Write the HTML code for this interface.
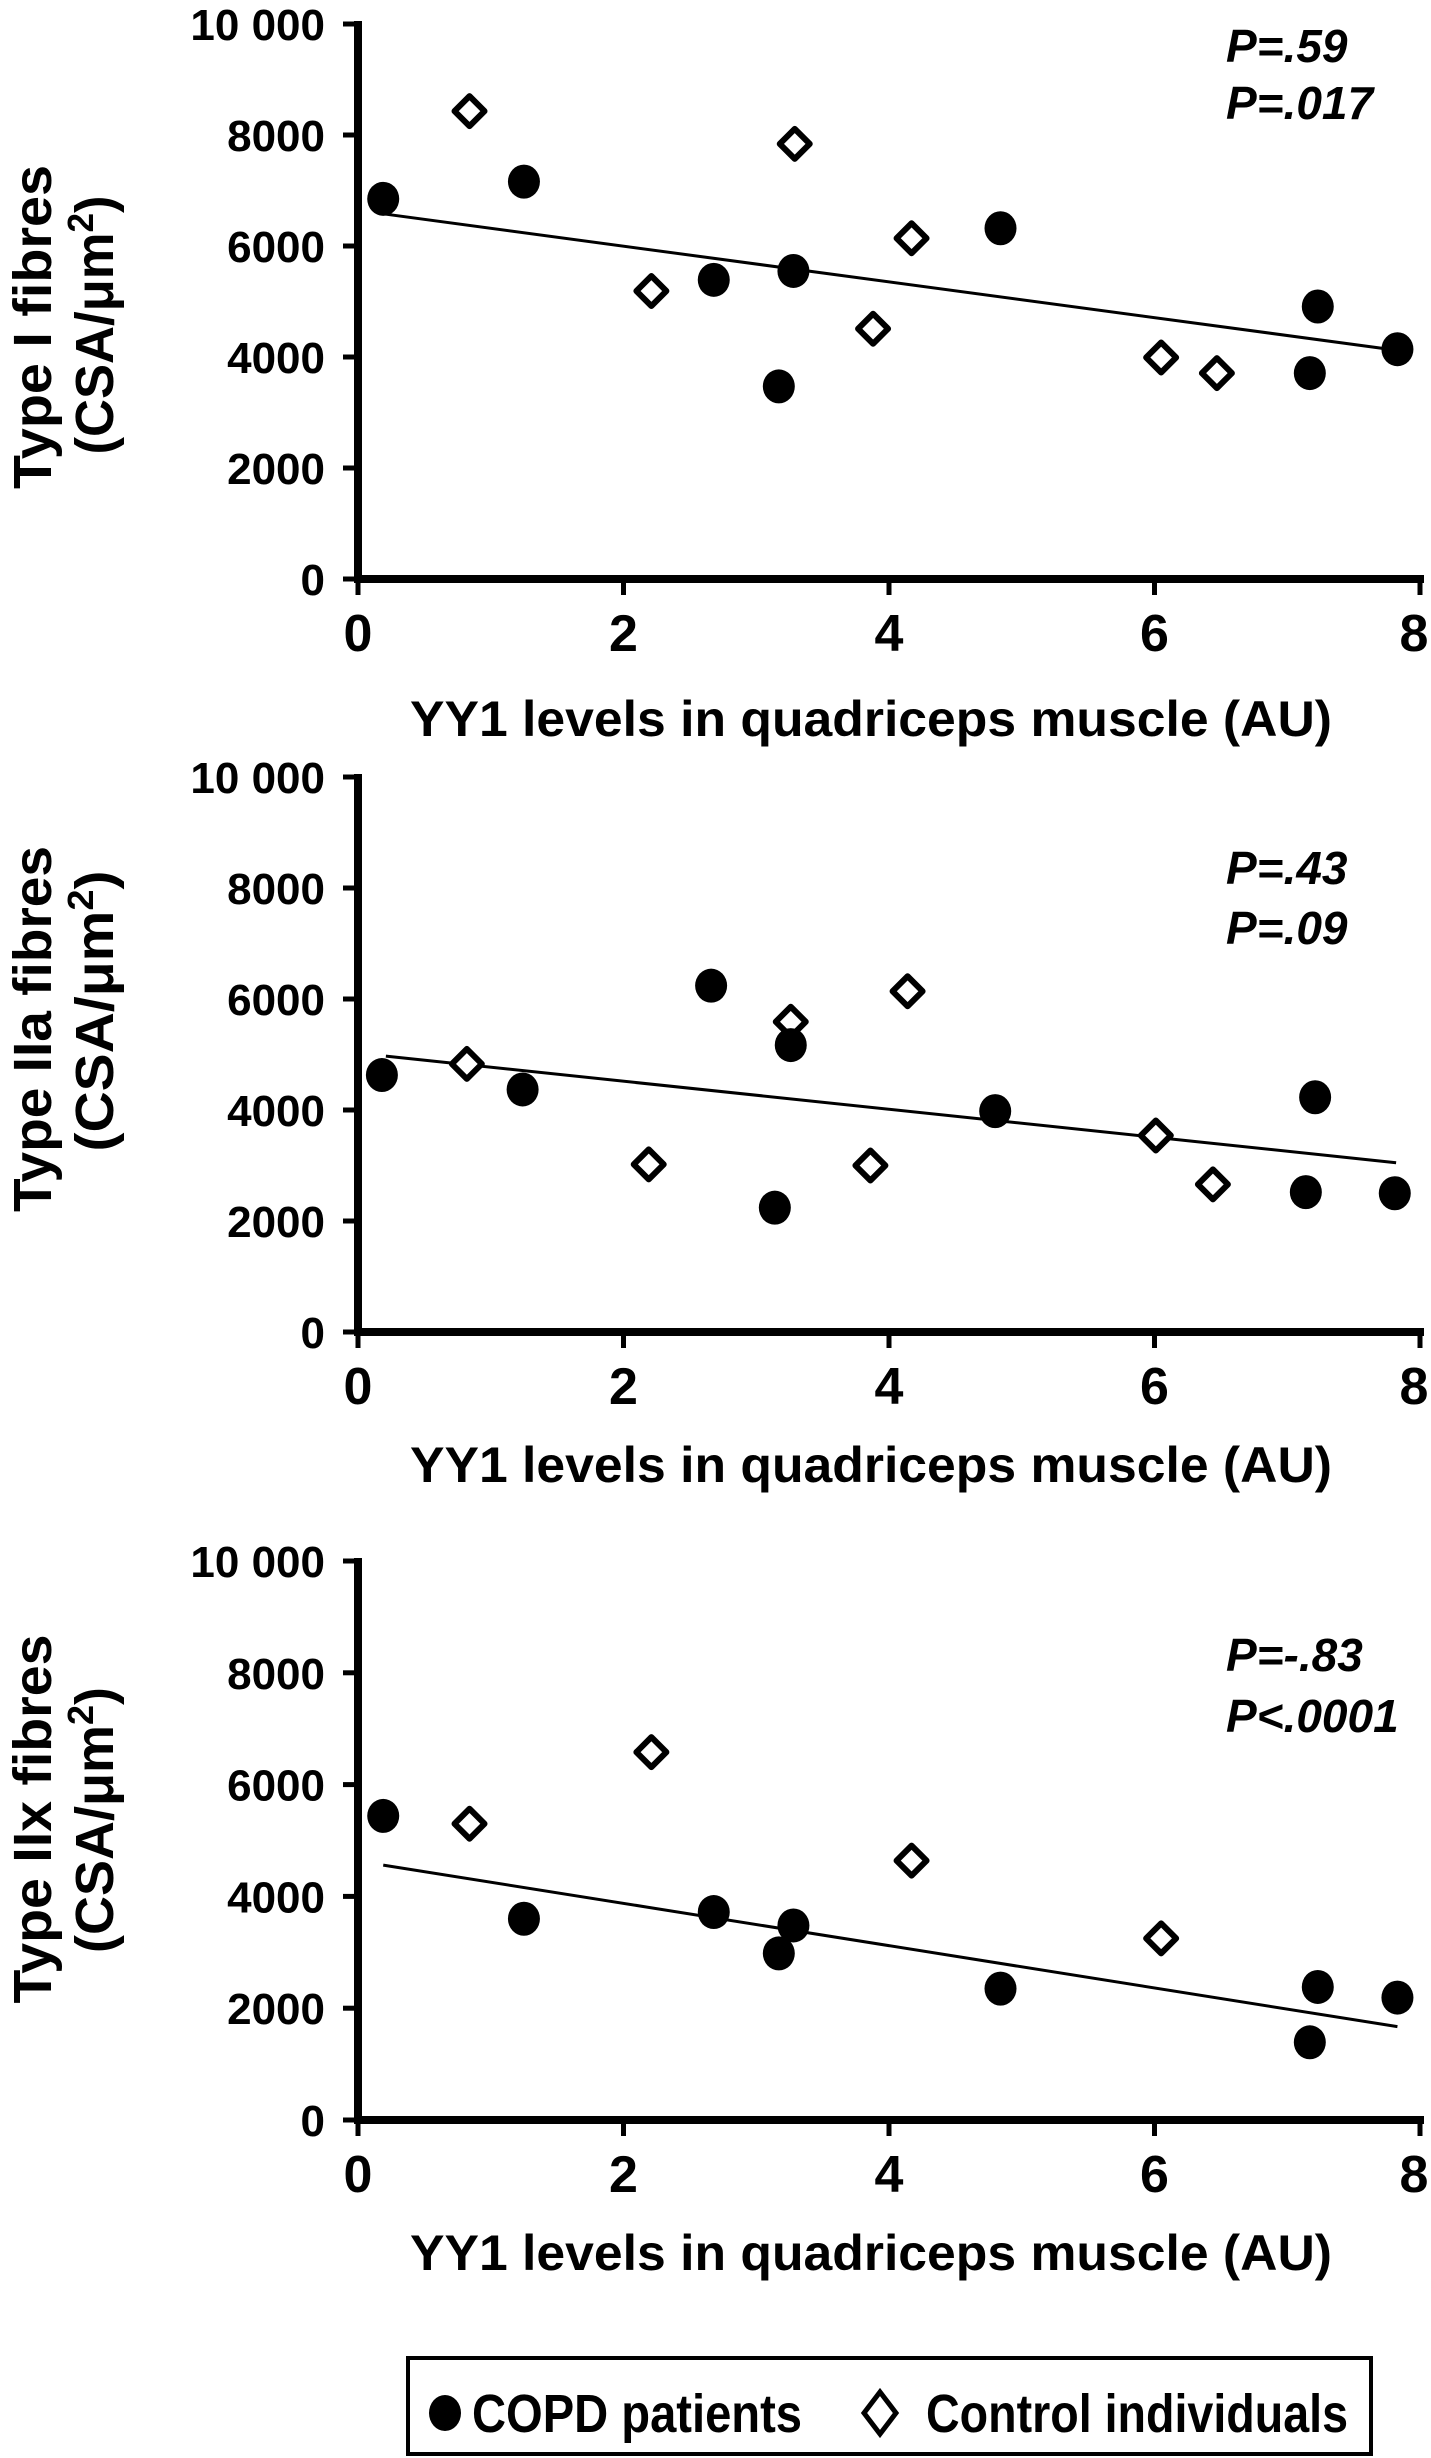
<!DOCTYPE html>
<html><head><meta charset="utf-8"><style>
html,body{margin:0;padding:0;background:#fff;}
svg{display:block;font-family:"Liberation Sans",Arial,sans-serif;}
</style></head><body>
<svg id="fig" width="1431" height="2458" viewBox="0 0 1431 2458">
<g id="legend">
<rect x="408" y="2358" width="963" height="96" fill="#fff" stroke="#000" stroke-width="4"/>
<ellipse cx="445" cy="2413" rx="16" ry="18" fill="#000"/>
<text x="472" y="2432" font-size="54" font-weight="bold" textLength="330" lengthAdjust="spacingAndGlyphs">COPD patients</text>
<path d="M880 2392 L896 2413 L880 2434 L864 2413 Z" fill="#fff" stroke="#000" stroke-width="5"/>
<text x="926" y="2432" font-size="54" font-weight="bold" textLength="422" lengthAdjust="spacingAndGlyphs">Control individuals</text>
</g>
</svg>
<script>
// Chart 1: Type I fibres
const c1CopdX = [0.19,1.25,2.68,3.28,3.17,4.84,7.23,7.17,7.83];
const c1CopdY = [6850,7160,5390,5550,3470,6320,4910,3710,4140];
const c1CtrlX = [0.84,2.21,3.29,3.88,4.17,6.05,6.47];
const c1CtrlY = [8430,5190,7840,4510,6140,3990,3710];
const c1Fit = [0.19,6580,7.83,4120];
// Chart 2: Type IIa fibres
const c2CopdX = [0.18,1.24,2.66,3.26,3.14,4.80,7.21,7.14,7.81];
const c2CopdY = [4630,4370,6240,5170,2240,3980,4230,2520,2500];
const c2CtrlX = [0.82,2.19,3.26,3.86,4.14,6.01,6.44];
const c2CtrlY = [4830,3020,5590,3000,6140,3540,2660];
const c2Fit = [0.21,4970,7.82,3050];
// Chart 3: Type IIx fibres
const c3CopdX = [0.19,1.25,2.68,3.28,3.17,4.84,7.23,7.17,7.83];
const c3CopdY = [5440,3600,3720,3480,2980,2350,2380,1390,2190];
const c3CtrlX = [0.84,2.21,4.17,6.05];
const c3CtrlY = [5300,6580,4640,3250];
const c3Fit = [0.19,4560,7.83,1670];
const yTicks = [0,2000,4000,6000,8000,10000];
const yTickLabels = ["0","2000","4000","6000","8000","10 000"];
const xTicks = [0,2,4,6,8];
const xTickLabels = ["0","2","4","6","8"];
const titles1 = ["Type I fibres","Type IIa fibres","Type IIx fibres"];
const pLines = [["P=.59","P=.017"],["P=.43","P=.09"],["P=-.83","P<.0001"]];

const NS="http://www.w3.org/2000/svg";
const svg=document.getElementById('fig');
function mk(tag,attrs,parent){const e=document.createElementNS(NS,tag);for(const k in attrs)e.setAttribute(k,attrs[k]);(parent||svg).appendChild(e);return e;}

const panels=[
 {top:24,bot:579,tc:[327,325],tl:[324,259],p:[62,119],cx:c1CopdX,cy:c1CopdY,kx:c1CtrlX,ky:c1CtrlY,fit:c1Fit,xt:736},
 {top:777,bot:1332,tc:[1029,1011],tl:[366,281],p:[884,944],cx:c2CopdX,cy:c2CopdY,kx:c2CtrlX,ky:c2CtrlY,fit:c2Fit,xt:1482},
 {top:1561,bot:2120,tc:[1819,1820],tl:[369,266],p:[1671,1732],cx:c3CopdX,cy:c3CopdY,kx:c3CtrlX,ky:c3CtrlY,fit:c3Fit,xt:2270}
];
const X0=358,X1=1420;
panels.forEach((P,i)=>{
 const g=mk('g',{});
 
 
 const sx=v=>X0+(X1-X0)*v/8;
 const sy=v=>P.bot-(P.bot-P.top)*v/10000;
 const ya=mk('line',{x1:X0,y1:P.top-3,x2:X0,y2:P.bot+4,stroke:'#000','stroke-width':8},g);
 
 
 const xa=mk('line',{x1:X0-4,y1:P.bot,x2:X1+4,y2:P.bot,stroke:'#000','stroke-width':8},g);
 
 
 yTicks.forEach((t,j)=>{
  const tk=mk('line',{x1:X0-15,y1:sy(t),x2:X0,y2:sy(t),stroke:'#000','stroke-width':5},g);
  
  
  const tl=mk('text',{x:325,y:sy(t)+16,'font-size':44,'font-weight':'bold','text-anchor':'end'},g);
  tl.textContent=yTickLabels[j];
  
  
 });
 xTicks.forEach((t,j)=>{
  const tk=mk('line',{x1:sx(t),y1:P.bot,x2:sx(t),y2:P.bot+16,stroke:'#000','stroke-width':5},g);
  
  
  const tl=mk('text',{x:Math.min(sx(t),1414),y:P.bot+72,'font-size':52,'font-weight':'bold','text-anchor':'middle'},g);
  tl.textContent=xTickLabels[j];
  
  
 });
 const xt=mk('text',{x:871,y:P.xt,'font-size':50,'font-weight':'bold','text-anchor':'middle',textLength:922,lengthAdjust:'spacingAndGlyphs'},g);
 xt.textContent='YY1 levels in quadriceps muscle (AU)';
 
 
 const t1=mk('text',{transform:`translate(51,${P.tc[0]}) rotate(-90)`,'font-size':54,'font-weight':'bold','text-anchor':'middle',textLength:P.tl[0],lengthAdjust:'spacingAndGlyphs'},g);
 t1.textContent=titles1[i];
 
 
 const t2=mk('text',{transform:`translate(113,${P.tc[1]}) rotate(-90)`,'font-size':54,'font-weight':'bold','text-anchor':'middle',textLength:P.tl[1],lengthAdjust:'spacingAndGlyphs'},g);
 t2.innerHTML='(CSA/μm<tspan dy="-20" font-size="36">2</tspan><tspan dy="20">)</tspan>';
 
 
 pLines[i].forEach((s,j)=>{
  const pt=mk('text',{x:1226,y:P.p[j],'font-size':46,'font-weight':'bold','font-style':'italic'},g);
  pt.textContent=s;
  
  
 });
 const f=P.fit;
 const fl=mk('line',{x1:sx(f[0]),y1:sy(f[1]),x2:sx(f[2]),y2:sy(f[3]),stroke:'#000','stroke-width':3},g);
 
 
 P.kx.forEach((v,j)=>{
  const x=sx(v),y=sy(P.ky[j]);
  const d=mk('path',{d:`M${x} ${y-15} L${x+15} ${y} L${x} ${y+15} L${x-15} ${y} Z`,fill:'#fff',stroke:'#000','stroke-width':6,'stroke-linejoin':'round'},g);
  
  
 });
 P.cx.forEach((v,j)=>{
  const c=mk('ellipse',{cx:sx(v),cy:sy(P.cy[j]),rx:16,ry:17,fill:'#000'},g);
  
  
 });
});
</script>
</body></html>
